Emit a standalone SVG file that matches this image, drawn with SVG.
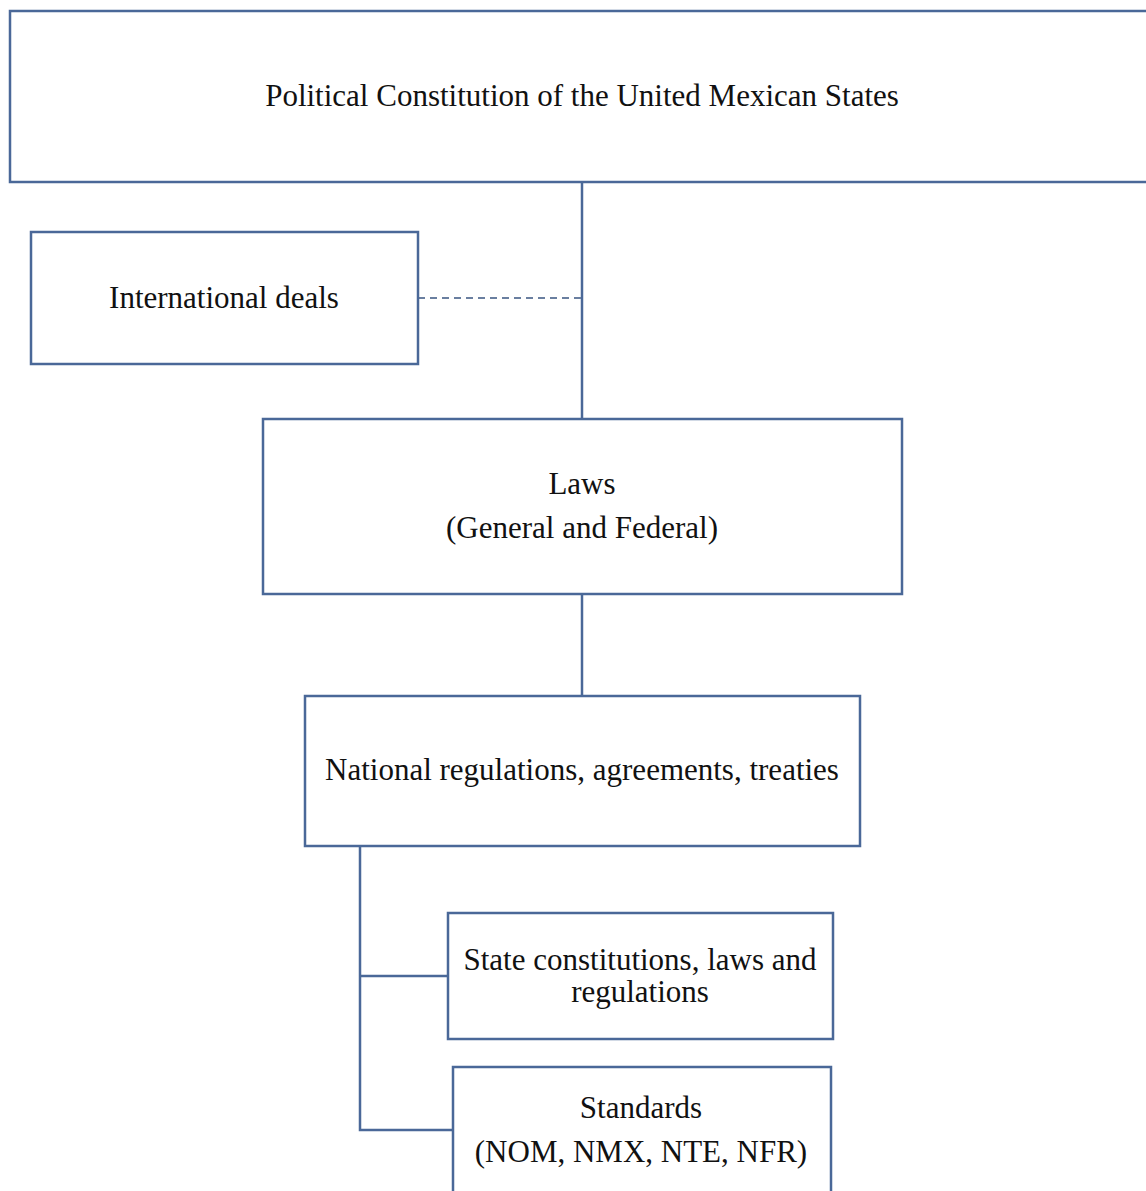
<svg xmlns="http://www.w3.org/2000/svg" width="1146" height="1191" viewBox="0 0 1146 1191">
<style>
.box{fill:#ffffff;stroke:#4a6898;stroke-width:2.5}
.ln{fill:none;stroke:#4a6898;stroke-width:2.5}
.dash{fill:none;stroke:#6a7fa0;stroke-width:1.8;stroke-dasharray:7 5}
text{font-family:"Liberation Serif","Times New Roman",serif;font-size:31px;fill:#111111;text-anchor:middle}
</style>
<rect width="1146" height="1191" fill="#ffffff"/>
<g id="connectors">
<line class="ln" x1="582" y1="182" x2="582" y2="419"/>
<line class="dash" x1="418" y1="298" x2="582" y2="298"/>
<line class="ln" x1="582" y1="594" x2="582" y2="696"/>
<polyline class="ln" points="360,846 360,1130 453,1130"/>
<line class="ln" x1="360" y1="976" x2="448" y2="976"/>
</g>
<g id="constitution">
<rect class="box" x="10" y="11" width="1150" height="171"/>
<text x="582" y="106">Political Constitution of the United Mexican States</text>
</g>
<g id="international">
<rect class="box" x="31" y="232" width="387" height="132"/>
<text x="224" y="308">International deals</text>
</g>
<g id="laws">
<rect class="box" x="263" y="419" width="639" height="175"/>
<text x="582" y="494">Laws</text>
<text x="582" y="538">(General and Federal)</text>
</g>
<g id="national">
<rect class="box" x="305" y="696" width="555" height="150"/>
<text x="582" y="780">National regulations, agreements, treaties</text>
</g>
<g id="state">
<rect class="box" x="448" y="913" width="385" height="126"/>
<text x="640" y="970">State constitutions, laws and</text>
<text x="640" y="1002">regulations</text>
</g>
<g id="standards">
<rect class="box" x="453" y="1067" width="378" height="140"/>
<text x="641" y="1118">Standards</text>
<text x="641" y="1162">(NOM, NMX, NTE, NFR)</text>
</g>
</svg>
